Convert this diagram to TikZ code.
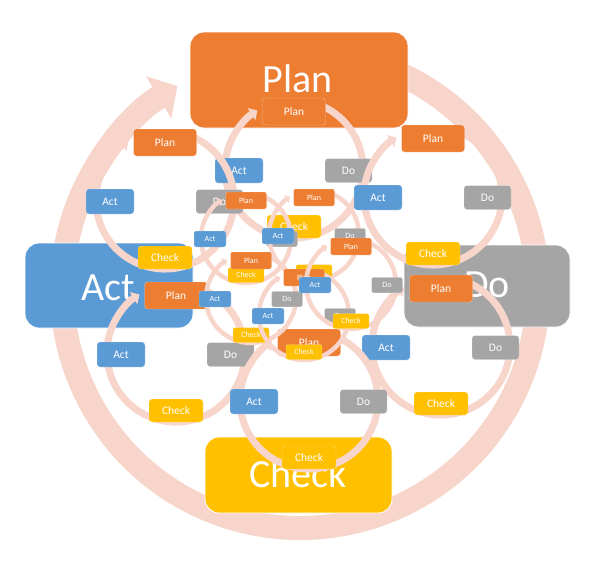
\documentclass[tikz,border=0pt]{standalone}
\usepackage{fontspec}
\setmainfont{Carlito}
\usetikzlibrary{arrows.meta}
\definecolor{cplan}{HTML}{ED7D31}
\definecolor{cact}{HTML}{5B9BD5}
\definecolor{cdo}{HTML}{A5A5A5}
\definecolor{ccheck}{HTML}{FFC000}
\definecolor{ringc}{HTML}{F7D5CB}
\tikzset{
  lbl/.style={draw=white, draw opacity=0.45, line width=0.4pt, text=white, inner sep=0pt, rounded corners=3pt},
  lblM/.style={lbl, font=\fontsize{11.5}{12}\selectfont},
  lblS/.style={lbl, rounded corners=2pt, font=\fontsize{8}{9}\selectfont},
  bigbox/.style={draw=white, line width=0.8pt, rounded corners=14pt},
  bigtxt/.style={text=white, font=\fontsize{40}{44}\selectfont, inner sep=0pt, anchor=base},
  ringB/.style={draw=ringc, line width=24pt, -{Triangle[width=48pt,length=22pt]}},
  ringM/.style={draw=ringc, line width=7pt, -{Triangle[width=14pt,length=7pt]}},
  ringS/.style={draw=ringc, line width=4.5pt, -{Triangle[width=9pt,length=4.5pt]}}
}
\newcommand{\medcyc}[3]{%
  \draw[ringM] (#2,#3) ++(66:69pt) arc[start angle=66,end angle=-238,radius=69pt];
  \path (#2,#3) ++(0,-57.5) node[lblM,fill=cplan,minimum width=63pt,minimum height=27pt] (#1-plan) {Plan};
  \path (#2,#3) ++(54.5,1.5) node[lblM,fill=cdo,minimum width=47pt,minimum height=24pt] (#1-do) {Do};
  \path (#2,#3) ++(0,57.5) node[lblM,fill=ccheck,minimum width=54pt,minimum height=23pt] (#1-check) {Check};
  \path (#2,#3) ++(-55,1.5) node[lblM,fill=cact,minimum width=48pt,minimum height=25pt] (#1-act) {Act};
}
\newcommand{\smlcyc}[3]{%
  \draw[ringS] (#2,#3) ++(66:45pt) arc[start angle=66,end angle=-238,radius=45pt];
  \path (#2,#3) ++(0,-37.5) node[lblS,fill=cplan,minimum width=41pt,minimum height=17pt] (#1-plan) {Plan};
  \path (#2,#3) ++(36,1) node[lblS,fill=cdo,minimum width=31pt,minimum height=15.5pt] (#1-do) {Do};
  \path (#2,#3) ++(0,37) node[lblS,fill=ccheck,minimum width=36pt,minimum height=15pt] (#1-check) {Check};
  \path (#2,#3) ++(-36,1) node[lblS,fill=cact,minimum width=32pt,minimum height=16pt] (#1-act) {Act};
}
\begin{document}
\begin{tikzpicture}[x=1pt,y=-1pt]
\useasboundingbox (0,0) rectangle (596,560);
% big ring
\draw[ringB] (300,290) ++(68:238pt) arc[start angle=68,end angle=-239,radius=238pt];
% big boxes
\node[bigbox, fill=cplan, minimum width=218pt, minimum height=96pt] (bplan) at (299,80) {};
\node[bigtxt] (bplan-t) at (298,92) {Plan};
\node[bigbox, fill=cact, minimum width=168pt, minimum height=85pt] (bact) at (109,285.5) {};
\node[bigtxt] (bact-t) at (108,300) {Act};
\node[bigbox, fill=cdo, minimum width=166pt, minimum height=82pt] (bdo) at (487,286) {};
\node[bigtxt] (bdo-t) at (487,297) {Do};
\node[bigbox, fill=ccheck, minimum width=187pt, minimum height=76pt] (bcheck) at (298.5,475) {};
\node[bigtxt] (bcheck-t) at (298,487) {Check};
% medium cycles
\medcyc{tc}{294}{169}
\medcyc{tl}{165}{200}
\medcyc{tr}{433}{196}
\medcyc{bl}{176}{353}
\medcyc{br}{441}{346}
\medcyc{bc}{309}{400}
% small cycles
\smlcyc{sa}{246}{238}
\smlcyc{sb}{314}{235}
\smlcyc{sc}{251}{298}
\smlcyc{se}{304}{315}
\smlcyc{sd}{351}{284}
\end{tikzpicture}
\end{document}
